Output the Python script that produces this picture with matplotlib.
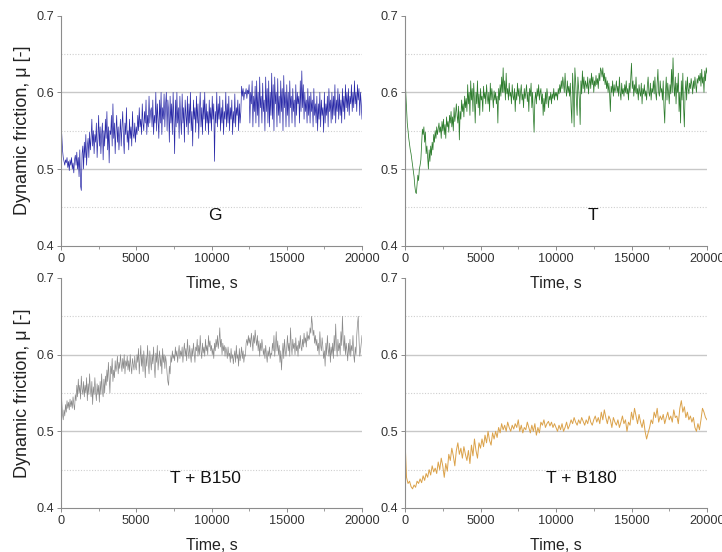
import numpy as np
import matplotlib
matplotlib.use("Agg")
import matplotlib.pyplot as plt
from matplotlib.ticker import MultipleLocator

plt.rcParams['font.family'] = ['Liberation Sans', 'DejaVu Sans']

# time axes: dense traces read every 50 s, the smoother one every 100 s
time_dense = np.arange(0, 20001, 50)
time_coarse = np.arange(0, 20001, 100)

# friction values (in thousandths)
mu_G = np.array([
    560, 545, 525, 515, 510, 505, 512, 508, 515, 502,
    510, 498, 512, 505, 515, 500, 508, 495, 512, 518,
    505, 522, 500, 515, 490, 525, 478, 472, 520, 530,
    500, 535, 515, 545, 505, 530, 540, 515, 548, 525,
    540, 565, 530, 550, 520, 545, 535, 560, 515, 540,
    570, 530, 555, 520, 545, 560, 512, 550, 530, 565,
    540, 575, 525, 555, 508, 550, 545, 570, 530, 585,
    540, 560, 520, 550, 570, 535, 555, 525, 545, 565,
    530, 555, 575, 540, 520, 560, 545, 580, 535, 550,
    525, 565, 540, 555, 530, 575, 545, 540, 560, 535,
    555, 545, 570, 550, 580, 555, 565, 545, 585, 560,
    550, 575, 560, 590, 545, 570, 555, 595, 560, 575,
    580, 555, 590, 545, 570, 560, 600, 550, 585, 565,
    540, 590, 560, 600, 545, 580, 565, 598, 555, 585,
    600, 550, 590, 575, 535, 595, 560, 585, 545, 600,
    565, 520, 590, 555, 600, 560, 580, 540, 595, 565,
    545, 598, 560, 580, 535, 590, 570, 555, 595, 545,
    585, 560, 600, 550, 575, 530, 590, 565, 580, 548,
    595, 560, 585, 540, 575, 600, 555, 580, 545, 590,
    565, 600, 550, 585, 560, 575, 545, 590, 560, 580,
    550, 595, 565, 585, 510, 575, 560, 600, 555, 585,
    565, 595, 550, 580, 560, 590, 545, 575, 565, 600,
    555, 585, 560, 595, 550, 580, 565, 590, 545, 575,
    560, 598, 555, 580, 570, 590, 550, 585, 560, 575,
    608, 595, 605, 590, 600, 598, 605, 592, 603, 598,
    610, 560, 600, 585, 615, 555, 595, 575, 608, 560,
    615, 570, 600, 555, 620, 580, 595, 560, 612, 575,
    590, 550, 620, 575, 605, 560, 615, 555, 600, 570,
    625, 565, 610, 550, 620, 585, 600, 555, 618, 570,
    595, 560, 615, 575, 605, 550, 622, 580, 600, 555,
    610, 570, 600, 555, 615, 580, 595, 560, 605, 575,
    590, 555, 610, 570, 600, 585, 595, 560, 615, 575,
    628, 580, 610, 565, 600, 575, 590, 560, 605, 570,
    595, 560, 600, 575, 590, 555, 605, 570, 585, 560,
    595, 550, 585, 565, 600, 555, 590, 570, 580, 548,
    600, 560, 585, 570, 595, 555, 605, 575, 590, 560,
    600, 565, 595, 570, 610, 560, 590, 575, 605, 565,
    598, 570, 590, 560, 605, 575, 595, 565, 610, 580,
    600, 575, 605, 570, 595, 585, 610, 575, 600, 580,
    615, 585, 600, 575, 610, 590, 605, 570, 600, 585,
    565]) / 1000.0

mu_T = np.array([
    625, 600, 580, 560, 550, 540, 532, 525, 520, 512,
    505, 498, 490, 478, 470, 468, 480, 492, 485, 500,
    505, 512, 532, 552, 545, 555, 535, 548, 520, 530,
    515, 500, 525, 510, 530, 518, 535, 525, 545, 535,
    550, 540, 555, 545, 552, 560, 548, 555, 540, 562,
    550, 565, 545, 558, 540, 568, 555, 562, 548, 570,
    560, 575, 555, 568, 550, 580, 562, 572, 585, 570,
    560, 582, 538, 575, 565, 590, 575, 585, 568, 595,
    580, 592, 575, 610, 585, 600, 570, 615, 590, 605,
    575, 612, 590, 560, 600, 585, 615, 580, 598, 570,
    605, 590, 595, 575, 608, 592, 600, 585, 610, 595,
    585, 600, 575, 612, 590, 605, 595, 580, 602, 590,
    600, 585, 595, 560, 605, 590, 610, 595, 620, 600,
    632, 600, 615, 590, 625, 598, 605, 590, 612, 595,
    600, 585, 610, 595, 590, 605, 575, 600, 590, 612,
    595, 605, 585, 600, 610, 590, 598, 580, 605, 592,
    600, 610, 588, 600, 575, 605, 595, 612, 580, 600,
    570, 548, 590, 600, 585, 605, 595, 610, 590, 600,
    605, 585, 598, 570, 592, 575, 600, 585, 605, 595,
    580, 595, 590, 600, 585, 598, 592, 605, 590, 600,
    595, 600, 590, 605, 598, 610, 600, 615, 605, 620,
    610, 600, 625, 605, 595, 615, 600, 608, 595, 612,
    580, 560, 625, 600, 555, 632, 615, 590, 570, 620,
    605, 590, 558, 615, 598, 628, 605, 620, 600, 615,
    610, 605, 620, 598, 612, 618, 605, 625, 610, 620,
    600, 615, 608, 622, 610, 618, 605, 625, 615, 632,
    628, 620, 632, 615, 625, 610, 620, 605, 615, 600,
    612, 598, 575, 608, 600, 615, 595, 610, 600, 605,
    615, 600, 608, 595, 620, 600, 590, 612, 598, 605,
    595, 610, 600, 615, 598, 605, 590, 612, 600, 620,
    638, 605, 615, 595, 610, 600, 620, 598, 605, 590,
    610, 600, 595, 612, 585, 605, 598, 610, 595, 602,
    590, 608, 620, 600, 595, 612, 590, 605, 600, 615,
    598, 620, 600, 590, 612, 630, 600, 595, 615, 600,
    605, 590, 615, 580, 560, 600, 620, 590, 612, 600,
    585, 610, 598, 630, 600, 645, 610, 595, 620, 585,
    612, 600, 625, 575, 600, 560, 615, 590, 625, 580,
    555, 600, 615, 590, 620, 605, 598, 612, 605, 618,
    610, 598, 615, 605, 620, 610, 600, 618, 612, 622,
    615, 625, 608, 630, 612, 620, 600, 628, 615, 632,
    625]) / 1000.0

mu_B150 = np.array([
    580, 540, 522, 515, 528, 520, 535, 525, 540, 530,
    538, 528, 542, 532, 540, 530, 545, 535, 528, 548,
    540, 560, 545, 568, 550, 560, 542, 572, 555, 548,
    565, 545, 560, 550, 570, 540, 562, 548, 575, 555,
    545, 565, 535, 558, 548, 570, 552, 540, 562, 548,
    560, 538, 565, 548, 575, 552, 545, 568, 550, 572,
    560, 580, 565, 590, 570, 550, 585, 575, 595, 565,
    580, 570, 592, 578, 585, 598, 575, 590, 582, 600,
    588, 578, 595, 582, 600, 575, 592, 585, 598, 580,
    592, 578, 600, 585, 575, 595, 588, 580, 598, 585,
    580, 600, 590, 608, 575, 595, 612, 585, 600, 578,
    605, 590, 570, 598, 585, 612, 590, 575, 605, 592,
    580, 600, 588, 610, 585, 570, 602, 590, 612, 580,
    595, 605, 585, 598, 575, 608, 590, 600, 582, 598,
    590, 575, 565, 560, 585, 575, 598, 590, 605, 595,
    600, 592, 610, 598, 605, 590, 602, 612, 595, 605,
    598, 610, 590, 605, 615, 598, 608, 592, 620, 605,
    595, 612, 600, 590, 608, 598, 615, 602, 590, 610,
    605, 620, 598, 612, 600, 625, 605, 595, 615, 602,
    610, 598, 620, 605, 612, 600, 625, 610, 618, 605,
    612, 600, 608, 595, 615, 605, 620, 610, 625, 608,
    618, 635, 610, 620, 600, 615, 605, 612, 598, 610,
    605, 595, 610, 598, 602, 590, 608, 595, 600, 588,
    598, 605, 590, 612, 595, 600, 585, 608, 592, 600,
    610, 595, 605, 590, 600, 598, 615, 620, 612, 625,
    615, 622, 610, 628, 618, 605, 625, 615, 632, 620,
    612, 625, 605, 618, 598, 615, 605, 620, 610, 600,
    608, 595, 612, 600, 590, 605, 598, 610, 595, 602,
    600, 615, 605, 625, 598, 610, 630, 605, 618, 600,
    612, 590, 605, 580, 600, 615, 595, 620, 605, 598,
    610, 625, 605, 615, 598, 635, 612, 600, 620, 608,
    615, 600, 622, 605, 612, 598, 618, 608, 625, 610,
    605, 620, 610, 628, 615, 622, 610, 630, 618, 625,
    620, 635, 628, 650, 640, 625, 632, 615, 625, 612,
    620, 605, 615, 600, 630, 612, 605, 622, 610, 595,
    605, 585, 615, 600, 625, 608, 598, 615, 590, 610,
    600, 615, 595, 625, 605, 640, 612, 598, 620, 605,
    615, 600, 630, 612, 650, 620, 605, 625, 600, 615,
    605, 592, 615, 600, 620, 598, 612, 605, 625, 600,
    590, 610, 600, 625, 640, 650, 620, 598, 605, 615,
    625]) / 1000.0

mu_B180 = np.array([
    490, 440, 432, 435, 428, 425, 430, 427, 435, 432,
    438, 433, 442, 436, 445, 440, 450, 443, 455, 447,
    452, 445, 460, 450, 465, 455, 440, 458, 448, 470,
    462, 478, 468, 455, 475, 485, 470, 478, 465, 480,
    470, 462, 475, 458, 482, 468, 490, 475, 465, 485,
    478, 490, 480, 495, 485, 500, 488, 482, 498, 490,
    500, 492, 505, 498, 510, 502, 508, 500, 512, 505,
    500, 508, 503, 510, 505, 515, 500, 508, 498, 505,
    502, 512, 505, 498, 508, 500, 510, 495, 505, 498,
    512, 508, 515, 505, 510, 513, 507, 512, 505, 510,
    505, 500, 508, 502, 510, 500, 505, 512, 503, 508,
    515, 510, 518, 512, 508, 515, 510, 518, 513, 508,
    515, 510, 520, 512, 508, 515, 520, 512, 518, 510,
    525, 515, 528, 518, 510, 520, 515, 505, 518, 512,
    508, 515, 505, 512, 520, 510, 515, 500, 512, 508,
    525, 515, 530, 520, 510, 522, 512, 505, 515, 500,
    490, 498, 505, 515, 510, 525, 518, 530, 512, 520,
    515, 522, 510, 518, 525, 515, 520, 512, 528, 518,
    520, 510, 530, 540, 525, 532, 518, 525, 515, 520,
    512, 518, 505, 500, 510, 502, 515, 530, 525, 518,
    515]) / 1000.0

panel_labels = ["G", "T", "T + B150", "T + B180"]
series = [mu_G, mu_T, mu_B150, mu_B180]
times = [time_dense, time_dense, time_dense, time_coarse]
colors = ["#2a2aa8", "#2e7d2e", "#8a8a8a", "#dba24a"]
widths = [0.5, 0.55, 0.5, 0.7]
x_ticks = [0, 5000, 10000, 15000, 20000]
y_ticks = [0.4, 0.5, 0.6, 0.7]
y_ticklabels = ["0.4", "0.5", "0.6", "0.7"]
label_pos = [(10230, 0.439), (12450, 0.440), (9570, 0.439), (11650, 0.439)]

W, H = 722, 552
fig = plt.figure(figsize=(W / 100, H / 100), dpi=100)

# axes boxes in pixels: (left, top, right, bottom)
boxes = [(61, 15.7, 362, 245.7), (405, 15.7, 707, 245.7),
         (61, 278, 362, 508), (405, 278, 707, 508)]

for k, (l, t, r, b) in enumerate(boxes):
    ax = fig.add_axes([l / W, 1 - b / H, (r - l) / W, (b - t) / H])
    ax.patch.set_visible(False)
    ax.set_xlim(0, 20000)
    ax.set_ylim(0.4, 0.7)
    for yv in [0.5, 0.6]:
        ax.axhline(yv, color="#c8c8c8", lw=1.0, zorder=0)
    for yv in [0.45, 0.55, 0.65]:
        ax.axhline(yv, color="#cfcfcf", lw=0.8, ls=(0, (1, 1.5)), zorder=0)
    ax.plot(times[k], series[k], color=colors[k], lw=widths[k], zorder=2)
    ax.set_xticks(x_ticks)
    ax.set_xticklabels([str(v) for v in x_ticks])
    ax.xaxis.set_minor_locator(MultipleLocator(2500))
    ax.set_yticks(y_ticks)
    ax.set_yticklabels(y_ticklabels)
    for s in ["top", "right"]:
        ax.spines[s].set_visible(False)
    for s in ["left", "bottom"]:
        ax.spines[s].set_color("#8c8c8c")
        ax.spines[s].set_linewidth(0.8)
    ax.tick_params(axis="both", which="major", direction="out", length=3,
                   width=0.7, color="#8c8c8c", labelsize=9.2,
                   labelcolor="#333333", pad=2)
    ax.tick_params(axis="x", which="minor", direction="out", length=2,
                   width=0.6, color="#8c8c8c")
    xl = ax.set_xlabel("Time, s", fontsize=11.5, color="#222222", labelpad=8)
    xl.set_zorder(10)
    if k in (0, 2):
        ax.set_ylabel("Dynamic friction, \u03bc [-]", fontsize=13,
                      color="#222222", labelpad=4)
    ax.text(label_pos[k][0], label_pos[k][1], panel_labels[k],
            fontsize=12.5, ha="center", va="center", color="#111111")

fig.savefig("out.png", dpi=100, facecolor="white")
